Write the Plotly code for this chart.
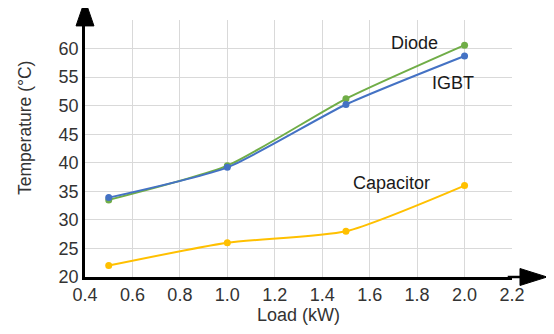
import plotly.graph_objects as go

load = [0.5, 1.0, 1.5, 2.0]
diode = [33.5, 39.5, 51.2, 60.6]
igbt = [33.9, 39.2, 50.2, 58.7]
capacitor = [22.0, 26.0, 28.0, 36.0]

x_ticks = [0.4, 0.6, 0.8, 1.0, 1.2, 1.4, 1.6, 1.8, 2.0, 2.2]
y_ticks = [20, 25, 30, 35, 40, 45, 50, 55, 60]

series = [
    ("Diode", diode, "#70AD47"),
    ("IGBT", igbt, "#4472C4"),
    ("Capacitor", capacitor, "#FFC000"),
]

fig = go.Figure()
for name, vals, col in series:
    fig.add_trace(go.Scatter(
        x=load, y=vals, name=name, mode="lines+markers",
        line=dict(color=col, width=2, shape="spline", smoothing=0.6),
        marker=dict(color=col, size=7),
        cliponaxis=False,
    ))

labels = [("Diode", 1.79, 60.9), ("IGBT", 1.95, 54.0), ("Capacitor", 1.69, 36.5)]
for t, x, y in labels:
    fig.add_annotation(x=x, y=y, text=t, showarrow=False,
                       font=dict(size=18, color="#1a1a1a"))

# y axis title as rotated annotation (placed higher than the plot centre, as in the reference)
fig.add_annotation(xref="paper", yref="paper", x=-0.1405, y=0.58, text="Temperature (°C)",
                   textangle=-90, showarrow=False, xanchor="center", yanchor="middle",
                   font=dict(size=17.5, color="#333333"))

# axis arrows (page body has an 8px offset; figure placed to compensate)
fig.add_shape(type="path", xref="paper", yref="paper",
              path="M -0.021 0.977 L 0.021 0.977 L 0 1.078 Z",
              fillcolor="black", line=dict(color="black", width=1))
fig.add_shape(type="line", xref="paper", yref="paper",
              x0=0.99, x1=1.02, y0=0, y1=0, line=dict(color="black", width=2.5))
fig.add_shape(type="path", xref="paper", yref="paper",
              path="M 1.0187 0.033 L 1.0187 -0.033 L 1.082 0 Z",
              fillcolor="black", line=dict(color="black", width=1))

fig.update_layout(
    width=546, height=326,
    margin=dict(l=77, r=42, t=12, b=57, autoexpand=False),
    plot_bgcolor="white", paper_bgcolor="white",
    showlegend=False,
    font=dict(family="Liberation Sans, Arial", size=18, color="#333333"),
)
fig.update_xaxes(range=[0.4, 2.2], tickvals=x_ticks, ticktext=[f"{v:.1f}" for v in x_ticks],
                 showgrid=True, gridcolor="#d9d9d9", gridwidth=1,
                 showline=True, linecolor="black", linewidth=2.5,
                 zeroline=False, ticks="", automargin=False,
                 title=dict(text="Load (kW)", standoff=4, font=dict(size=18)),
                 tickfont=dict(size=18))
fig.update_yaxes(range=[20, 65], tickvals=y_ticks + [65], ticktext=[str(v) for v in y_ticks] + [""],
                 showgrid=True, gridcolor="#d9d9d9", gridwidth=1,
                 showline=True, linecolor="black", linewidth=2.5,
                 zeroline=False, ticks="", automargin=False,
                 tickfont=dict(size=18))

fig.write_html("out.html")
